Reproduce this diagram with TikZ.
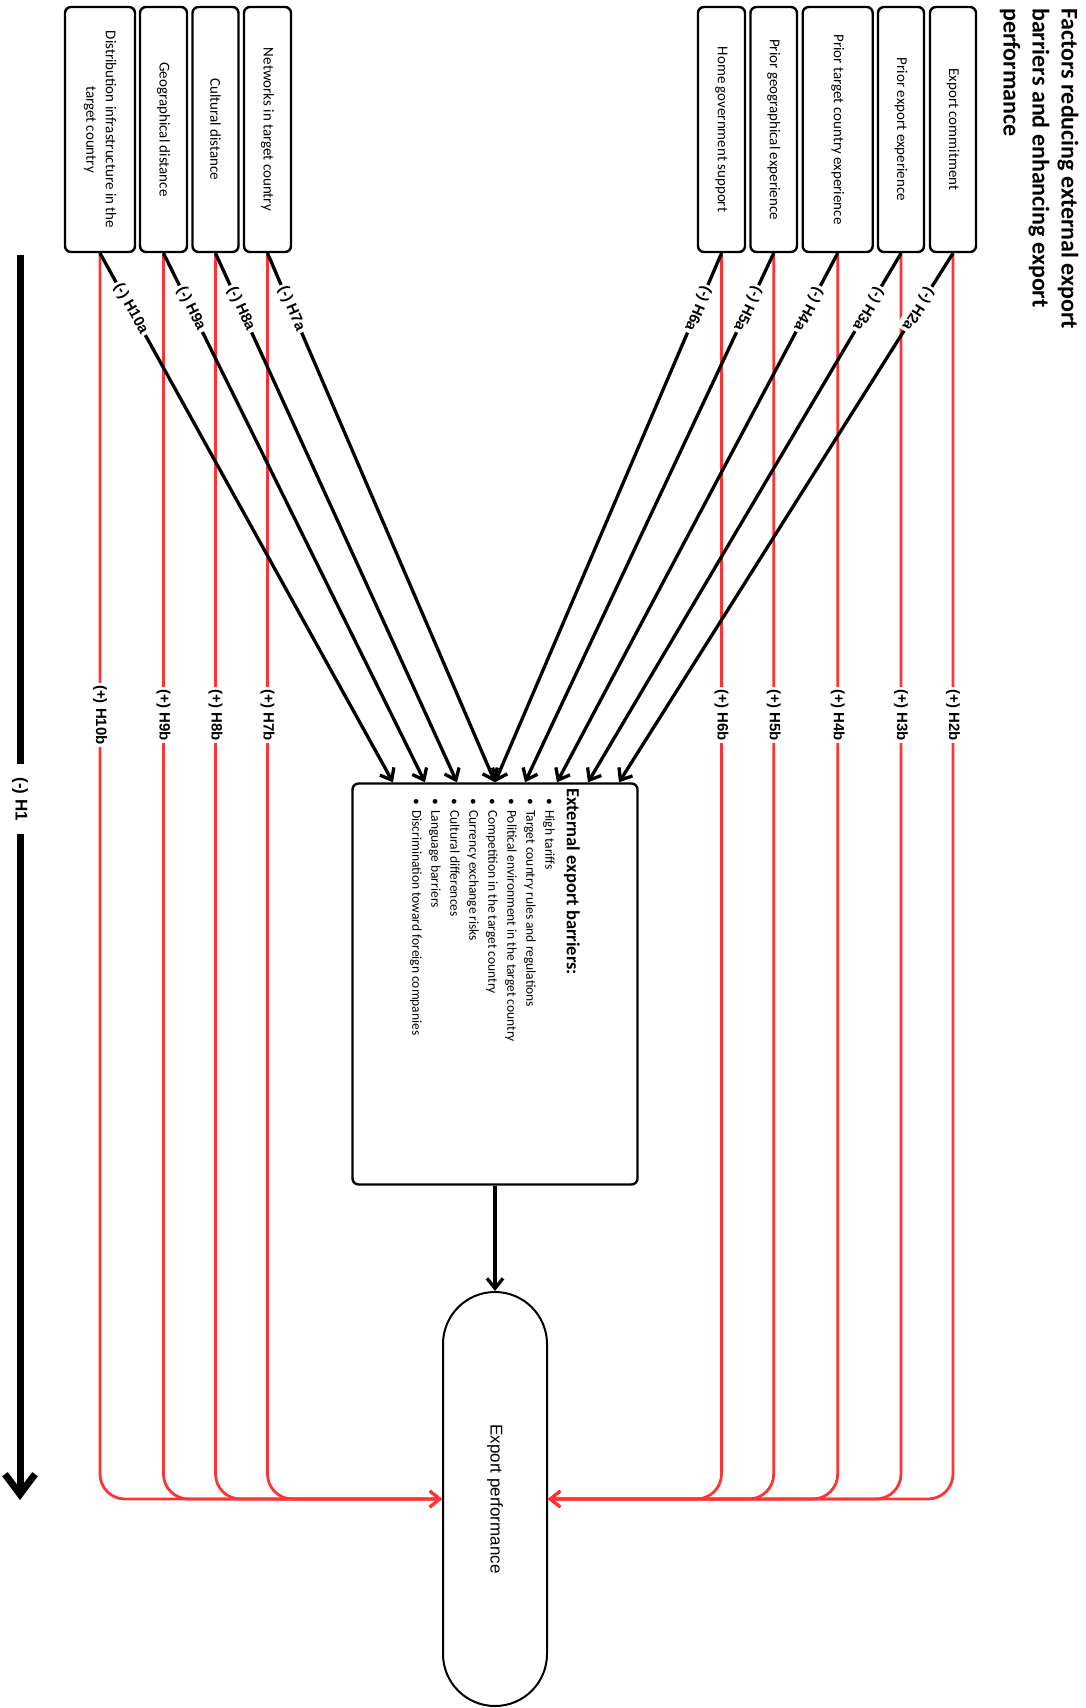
\documentclass[tikz,border=0pt]{standalone}
\usepackage{graphicx}
\usepackage{fontspec}
\setmainfont{Carlito}
\newfontfamily\labfont{Liberation Sans}
\usetikzlibrary{arrows.meta}
\definecolor{myred}{RGB}{255,51,51}
\begin{document}
\begin{tikzpicture}[x=1pt,y=-1pt,
  factor/.style={draw, line width=2.4, rounded corners=6, minimum height=245, inner sep=0, font=\fontsize{15}{19.5}\selectfont},
  blk/.style={draw=black, line width=3.3, -{Straight Barb[length=10pt,width=16pt]}},
  redl/.style={draw=myred, line width=2.8, rounded corners=25, -{Straight Barb[length=10pt,width=16pt]}},
  hlab/.style={font=\labfont\bfseries\fontsize{15}{18}\selectfont, fill=white, inner sep=2.5pt, text=black, sharp corners},
  blab/.style={hlab, pos=0.105, sloped, allow upside down},
  rlab/.style={hlab, pos=0.1853, rotate=-90},
]
\useasboundingbox (0,0) rectangle (1086,1708);

% title
\node[anchor=north east, inner sep=0] (title) at (1082,8) {\rotatebox{-90}{\fontsize{24}{29}\selectfont\bfseries
  \begin{tabular}{@{}l@{}}Factors reducing external export\\ barriers and enhancing export\\ performance\end{tabular}}};

% factor boxes (left)
\node[factor, minimum width=70] (dist) at (100,129.5) {\rotatebox{-90}{\begin{tabular}{@{}c@{}}Distribution infrastructure in the\\ target country\end{tabular}}};
\node[factor, minimum width=47] (geo) at (163.5,129.5) {\rotatebox{-90}{Geographical distance}};
\node[factor, minimum width=46] (cult) at (215.5,129.5) {\rotatebox{-90}{Cultural distance}};
\node[factor, minimum width=47] (netw) at (267.5,129.5) {\rotatebox{-90}{Networks in target country}};
% factor boxes (right)
\node[factor, minimum width=47] (home) at (721.5,129.5) {\rotatebox{-90}{Home government support}};
\node[factor, minimum width=46.5] (pgeo) at (773.7,129.5) {\rotatebox{-90}{Prior geographical experience}};
\node[factor, minimum width=70] (ptarg) at (837.7,129.5) {\rotatebox{-90}{Prior target country experience}};
\node[factor, minimum width=46] (pexp) at (901,129.5) {\rotatebox{-90}{Prior export experience}};
\node[factor, minimum width=46] (ecom) at (953,129.5) {\rotatebox{-90}{Export commitment}};

% barriers box
\node[draw, line width=2.4, rounded corners=6, minimum width=285, minimum height=401, inner sep=0] (barrier) at (495,984) {};
\node[anchor=north east, inner sep=0] (bartext) at (580,788) {\rotatebox{-90}{\begin{minipage}{260pt}\raggedright
  {\fontsize{18.5}{22}\selectfont\bfseries External export barriers:}\par\vspace{2.5pt}
  \fontsize{13.5}{19}\selectfont
  \hspace*{10pt}\textbullet\hspace{5.3pt}High tariffs\par
  \hspace*{10pt}\textbullet\hspace{5.3pt}Target country rules and regulations\par
  \hspace*{10pt}\textbullet\hspace{5.3pt}Political environment in the target country\par
  \hspace*{10pt}\textbullet\hspace{5.3pt}Competition in the target country\par
  \hspace*{10pt}\textbullet\hspace{5.3pt}Currency exchange risks\par
  \hspace*{10pt}\textbullet\hspace{5.3pt}Cultural differences\par
  \hspace*{10pt}\textbullet\hspace{5.3pt}Language barriers\par
  \hspace*{10pt}\textbullet\hspace{5.3pt}Discrimination toward foreign companies\par
  \end{minipage}}};

% export performance
\node[draw, line width=2, rounded corners=52, minimum width=104, minimum height=414, inner sep=0] (ep) at (495,1499) {\rotatebox{-90}{\labfont\fontsize{17}{20}\selectfont Export performance}};

% red connectors
\draw[redl] (dist.south) |- node[rlab] (l10b) {(+) H10b} (ep.west);
\draw[redl] (geo.south) |- node[rlab] (l9b) {(+) H9b} (ep.west);
\draw[redl] (cult.south) |- node[rlab] (l8b) {(+) H8b} (ep.west);
\draw[redl] (netw.south) |- node[rlab] (l7b) {(+) H7b} (ep.west);
\draw[redl] (home.south) |- node[rlab] (l6b) {(+) H6b} (ep.east);
\draw[redl] (pgeo.south) |- node[rlab] (l5b) {(+) H5b} (ep.east);
\draw[redl] (ptarg.south) |- node[rlab] (l4b) {(+) H4b} (ep.east);
\draw[redl] (pexp.south) |- node[rlab] (l3b) {(+) H3b} (ep.east);
\draw[redl] (ecom.south) |- node[rlab] (l2b) {(+) H2b} (ep.east);

% black connectors
\draw[blk] (dist.south) -- node[blab] (l10a) {(-) H10a} ([xshift=-102pt]barrier.north);
\draw[blk] (geo.south) -- node[blab] (l9a) {(-) H9a} ([xshift=-70pt]barrier.north);
\draw[blk] (cult.south) -- node[blab] (l8a) {(-) H8a} ([xshift=-38pt]barrier.north);
\draw[blk] (netw.south) -- node[blab] (l7a) {(-) H7a} (barrier.north);
\draw[blk] (home.south) -- node[blab] (l6a) {(-) H6a} (barrier.north);
\draw[blk] (pgeo.south) -- node[blab] (l5a) {(-) H5a} ([xshift=30pt]barrier.north);
\draw[blk] (ptarg.south) -- node[blab] (l4a) {(-) H4a} ([xshift=62pt]barrier.north);
\draw[blk] (pexp.south) -- node[blab] (l3a) {(-) H3a} ([xshift=93pt]barrier.north);
\draw[blk] (ecom.south) -- node[blab] (l2a) {(-) H2a} ([xshift=124pt]barrier.north);

\draw[blk] (barrier.south) -- (ep.north);

% H1
\coordinate (h1top) at (20,255);
\coordinate (h1end) at (20,1500);
\draw[line width=7, -{Straight Barb[length=20pt,width=30pt]}] (h1top) -- node[pos=0.437, rotate=-90, fill=white, inner xsep=13pt, inner ysep=2pt, font=\labfont\bfseries\fontsize{17}{20}\selectfont] (h1lab) {(-) H1} (h1end);
\end{tikzpicture}
\end{document}
